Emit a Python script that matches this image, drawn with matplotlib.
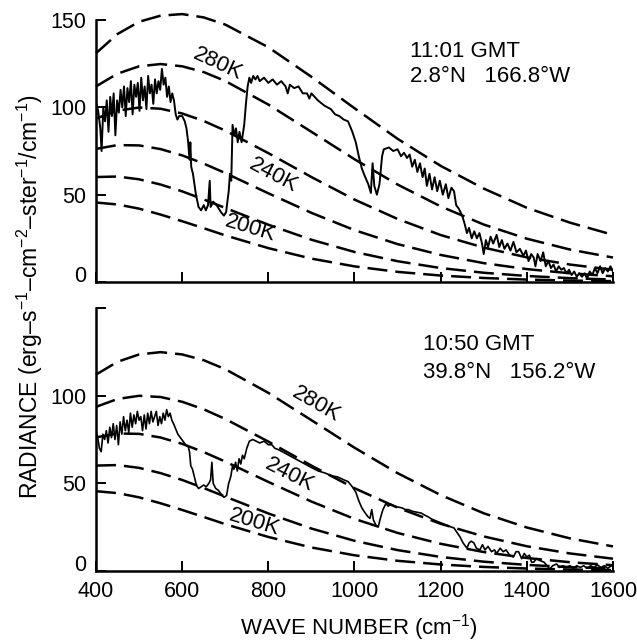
import matplotlib
matplotlib.use("Agg")
import matplotlib.pyplot as plt

# =========================
# 1. Data
# =========================
# blackbody reference curves (dashed), radiance vs wave number
wn_curve = [400, 450, 500, 550, 600, 650, 700, 800, 900, 1000, 1100, 1200, 1300, 1400, 1500, 1600]
bb_300K = [131, 142, 149, 152.5, 153.4, 151.5, 147.4, 134.4, 117.5, 99.5, 82, 66.5, 53.5, 42.5, 34, 27]
bb_280K = [112, 119.3, 123.5, 124.8, 123.5, 120.2, 115.1, 101.6, 86, 70.3, 55.8, 43.3, 32.9, 24.8, 18.6, 14]
bb_260K = [93.6, 98.1, 99.9, 99.2, 96.5, 92.2, 86.7, 73.8, 60.1, 47.2, 36.1, 26.9, 19.7, 14.1, 10, 7]
bb_240K = [76.2, 78.4, 78.2, 76.1, 72.5, 67.8, 62.4, 50.8, 39.6, 29.7, 21.7, 15.5, 10.8, 7.4, 5, 3.3]
bb_220K = [60.1, 60.4, 58.8, 55.8, 51.9, 47.3, 42.4, 32.8, 24.2, 17.2, 11.9, 8, 5.3, 3.45, 2.2, 1.4]
bb_200K = [45.5, 44.4, 42, 38.6, 34.8, 30.8, 26.7, 19.4, 13.4, 8.95, 5.8, 3.7, 2.3, 1.4, 0.8, 0.5]

# measured spectrum, 11:01 GMT (top panel)
wn_top = [400, 405, 410, 413, 417, 421, 425, 429, 433, 437, 441, 445, 449, 453, 457, 461, 465, 469,
          473, 477, 481, 485, 489, 493, 497, 501, 505, 509, 513, 517, 521, 525, 529, 533, 537, 541,
          545, 549, 553, 557, 561, 565, 569, 573, 577, 581, 585, 589, 593, 600, 606, 610, 614, 617,
          619, 621, 625, 632, 638, 644, 650, 655, 660, 664, 666, 672, 680, 690, 697, 702, 708, 711,
          714, 717, 721, 725, 729, 733, 738, 744, 748, 752, 756, 760, 765, 770, 775, 780, 790, 800,
          810, 820, 830, 840, 845, 850, 860, 870, 880, 890, 895, 900, 915, 930, 945, 955, 965, 975,
          985, 995, 1003, 1010, 1017, 1025, 1032, 1038, 1042, 1046, 1052, 1058, 1064, 1068, 1080,
          1090, 1100, 1108, 1115, 1122, 1128, 1134, 1140, 1146, 1152, 1158, 1163, 1168, 1174, 1180,
          1186, 1192, 1198, 1205, 1212, 1218, 1225, 1231, 1236, 1242, 1250, 1256, 1261, 1266, 1272,
          1278, 1284, 1290, 1296, 1300, 1305, 1310, 1316, 1322, 1330, 1336, 1342, 1348, 1355, 1362,
          1369, 1376, 1384, 1392, 1398, 1404, 1410, 1416, 1420, 1425, 1432, 1438, 1444, 1450, 1456,
          1462, 1468, 1474, 1480, 1486, 1492, 1498, 1504, 1510, 1516, 1522, 1528, 1534, 1540, 1546,
          1552, 1558, 1564, 1570, 1576, 1582, 1588, 1594, 1600]
rad_top = [103, 98, 88, 75, 100, 92, 104, 86, 106, 95, 108, 84, 104, 97, 110, 100, 112, 95,
           111, 103, 115, 96, 113, 106, 114, 98, 117, 104, 112, 99, 118, 108, 113, 102, 116, 108,
           115, 110, 122, 113, 117, 106, 112, 103, 108, 104, 96, 93, 95, 95, 92, 88, 80, 70,
           80, 66, 62, 50, 43, 41, 44, 41, 44, 58, 43, 46, 44, 40, 38, 40, 52, 62,
           58, 90, 84, 88, 80, 86, 80, 90, 102, 112, 117, 114, 118, 116, 118, 115, 117, 114,
           116, 113, 115, 112, 108, 113, 111, 112, 108, 108, 105, 108, 104, 101, 99, 96, 95, 93,
           92, 86, 80, 72, 65, 60, 56, 51, 68, 55, 50, 56, 72, 76, 77,
           75, 76, 72, 74, 71, 73, 66, 70, 63, 68, 60, 65, 55, 62, 53,
           60, 52, 58, 50, 56, 48, 54, 52, 44, 42, 38, 33, 28, 31, 25,
           29, 25, 28, 22, 16, 24, 20, 26, 22, 27, 20, 24, 19, 22, 18,
           23, 17, 19, 15, 18, 12, 16, 14, 9, 16, 12, 17, 9, 12, 8,
           10, 6, 9, 7, 8, 5, 7, 4, 6, 3, 5, 3, 5, 2, 6,
           4, 8, 5, 9, 5, 8, 6, 9, 6]

# measured spectrum, 10:50 GMT (bottom panel)
wn_bot = [400, 404, 408, 412, 416, 420, 424, 428, 432, 436, 440, 444, 448, 452, 456, 460, 464, 468,
          472, 476, 480, 484, 488, 492, 496, 500, 504, 508, 512, 516, 520, 524, 528, 532, 536, 540,
          544, 548, 552, 556, 560, 564, 568, 572, 576, 580, 585, 590, 596, 602, 608, 614, 617, 620,
          624, 628, 633, 638, 644, 650, 656, 662, 666, 669, 672, 678, 684, 690, 697, 703, 708, 713,
          717, 720, 724, 728, 732, 736, 740, 744, 750, 756, 764, 772, 780, 790, 800, 808, 815, 825,
          840, 855, 870, 885, 900, 916, 930, 945, 962, 975, 985, 995, 1003, 1010, 1017, 1025, 1031,
          1036, 1040, 1044, 1050, 1055, 1060, 1066, 1073, 1078, 1085, 1093, 1100, 1110, 1118, 1125,
          1135, 1145, 1155, 1162, 1170, 1180, 1190, 1200, 1210, 1220, 1231, 1238, 1245, 1252, 1258,
          1261, 1266, 1271, 1277, 1283, 1291, 1297, 1303, 1310, 1318, 1325, 1330, 1338, 1345, 1352,
          1360, 1369, 1375, 1381, 1388, 1394, 1400, 1406, 1411, 1416, 1422, 1430, 1440, 1447, 1453,
          1460, 1469, 1476, 1484, 1492, 1500, 1508, 1516, 1524, 1532, 1540, 1548, 1556, 1564, 1572,
          1580, 1588, 1596, 1600]
rad_bot = [80, 76, 70, 68, 78, 75, 80, 73, 82, 76, 84, 75, 83, 72, 85, 78, 88, 80,
           86, 79, 90, 82, 89, 84, 91, 86, 88, 80, 89, 81, 90, 84, 91, 85, 88, 91,
           83, 88, 84, 90, 86, 92, 88, 90, 86, 84, 81, 78, 76, 74, 72, 71, 68, 60,
           58, 54, 49, 47, 48, 49, 48, 50, 52, 62, 50, 47, 46, 44, 42, 43, 50, 54,
           60, 58, 62, 57, 64, 61, 66, 64, 70, 74, 75, 74, 73, 74, 72, 72, 70, 69,
           67, 65, 63, 61, 59, 57, 56, 54.5, 53.5, 52, 51, 48, 45, 40, 36, 33, 31,
           30, 35, 29, 26, 25, 30, 35, 38.5, 37, 38, 37, 36.5, 36, 35, 35,
           34, 33.5, 33, 32, 31, 29.5, 28.5, 27.5, 26.5, 25.5, 24.5, 22, 19.4, 16, 14,
           13, 16, 17, 16, 13, 12, 15, 12, 14, 11, 12, 10, 13, 11, 12,
           9, 8, 11, 11, 7, 10, 8, 9, 5, 5, 7, 6, 5, 3, 1,
           3, 4, 2, 3, 2, 3, 1.5, 3, 2, 3, 1.5, 3, 2, 3.5, 2,
           3, 1.5, 3, 2.5]

xticks = [400, 600, 800, 1000, 1200, 1400, 1600]

# =========================
# 2. Fonts
# =========================
plt.rcParams["font.family"] = ["Liberation Sans", "DejaVu Sans"]
plt.rcParams["mathtext.fontset"] = "custom"
plt.rcParams["mathtext.rm"] = "Liberation Sans"
plt.rcParams["mathtext.it"] = "Liberation Sans:italic"
plt.rcParams["mathtext.bf"] = "Liberation Sans:bold"

# =========================
# 3. Figure and axes
# =========================
fig = plt.figure(figsize=(6.37, 6.44), dpi=100)
ax_top = fig.add_axes([0.1507, 0.5621, 0.8116, 0.4068])
ax_bot = fig.add_axes([0.1507, 0.1134, 0.8116, 0.4084])

dash = (0, (8, 3.2))

# =========================
# 4. Top panel
# =========================
for vals in [bb_300K, bb_280K, bb_260K, bb_240K, bb_220K, bb_200K]:
    ax_top.plot(wn_curve, vals, color="black", lw=1.8, linestyle=dash, clip_on=False)
ax_top.plot(wn_top, rad_top, color="black", lw=1.4)

ax_top.text(683, 125, "280K", rotation=-25, ha="center", va="center", fontsize=16)
ax_top.text(812, 61, "240K", rotation=-28, ha="center", va="center", fontsize=16)
ax_top.text(759, 31, "200K", rotation=-17, ha="center", va="center", fontsize=16)
ax_top.text(0.607, 0.92, "11:01 GMT", transform=ax_top.transAxes, ha="left", va="top", fontsize=16)
ax_top.text(0.607, 0.825, "2.8°N   166.8°W", transform=ax_top.transAxes, ha="left", va="top", fontsize=16)

ax_top.set_yticks([0, 50, 100, 150])
ax_top.set_xticks(xticks)
ax_top.set_xticklabels([])

# =========================
# 5. Bottom panel
# =========================
for vals in [bb_280K, bb_260K, bb_240K, bb_220K, bb_200K]:
    ax_bot.plot(wn_curve, vals, color="black", lw=1.8, linestyle=dash, clip_on=False)
ax_bot.plot(wn_bot, rad_bot, color="black", lw=1.2)

ax_bot.text(911, 95, "280K", rotation=-30, ha="center", va="center", fontsize=16)
ax_bot.text(849, 55, "240K", rotation=-27, ha="center", va="center", fontsize=16)
ax_bot.text(768, 27.5, "200K", rotation=-17, ha="center", va="center", fontsize=16)
ax_bot.text(0.632, 0.9, "10:50 GMT", transform=ax_bot.transAxes, ha="left", va="top", fontsize=16)
ax_bot.text(0.632, 0.795, "39.8°N   156.2°W", transform=ax_bot.transAxes, ha="left", va="top", fontsize=16)

ax_bot.set_yticks([0, 50, 100, 150])
ax_bot.set_yticklabels(["0", "50", "100", ""])
ax_bot.set_xticks(xticks)

# =========================
# 6. Shared axis styling
# =========================
for ax in [ax_top, ax_bot]:
    ax.set_xlim(400, 1600)
    ax.set_ylim(0, 150)
    for side in ["top", "right"]:
        ax.spines[side].set_visible(False)
    for side in ["left", "bottom"]:
        ax.spines[side].set_linewidth(1.8)
    ax.tick_params(direction="in", length=7, width=1.4, labelsize=15.5, pad=7)
    # the "0" label sits on the axis line, not centred on it
    ax.yaxis.get_major_ticks()[0].label1.set_verticalalignment("baseline")

fig.text(0.047, 0.54, r"RADIANCE (erg–s$^{-1}$–cm$^{-2}$–ster$^{-1}$/cm$^{-1}$)",
         rotation=90, ha="center", va="center", fontsize=16.5)
fig.text(0.563, 0.014, r"WAVE NUMBER (cm$^{-1}$)", ha="center", va="baseline", fontsize=16)

# =========================
# 7. Save
# =========================
fig.savefig("out.png", dpi=100)
